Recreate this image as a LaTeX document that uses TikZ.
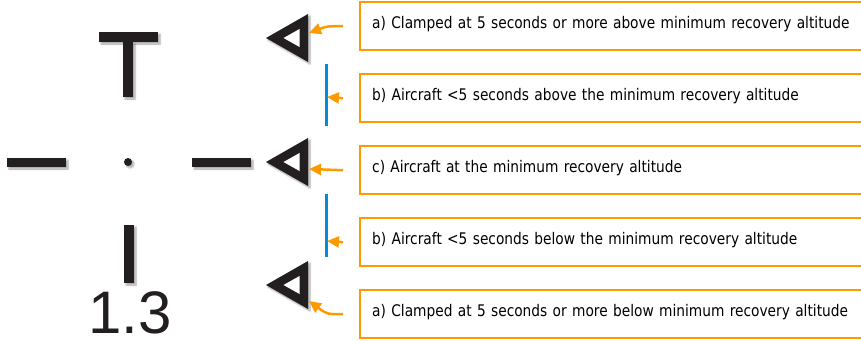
\documentclass[tikz,border=0pt]{standalone}
\usepackage{fontspec}
\usepackage{tikz}
\usetikzlibrary{arrows.meta, shadows.blur}
\newfontfamily\boxfont[FakeStretch=0.86]{DejaVu Sans}
\newfontfamily\hudfont{Liberation Sans}
\definecolor{hudink}{RGB}{35,31,32}
\definecolor{boxorange}{RGB}{255,153,0}
\definecolor{barblue}{RGB}{0,140,214}

\begin{document}
\begin{tikzpicture}[x=1pt, y=-1pt,
		msgbox/.style={draw=boxorange, line width=2.4pt, anchor=north west,
			inner xsep=12pt, inner ysep=0pt, text width=496pt, align=left,
			text height=26pt, text depth=22pt, font=\boxfont\fontsize{16}{19}\selectfont},
		pointer/.style={boxorange, line width=2.5pt, -{Triangle[length=12pt, width=11pt]}},
		hud/.style={fill=hudink, blur shadow={shadow xshift=2pt, shadow yshift=-2pt,
			shadow blur steps=6, shadow opacity=35}},
		bluebar/.style={barblue, line width=3pt}]
		
		\useasboundingbox (0,0) rectangle (861,340);
		\clip (0,0) rectangle (861,340);
		
		% pitch ladder symbol
		\fill[hud] (99,32) rectangle (158,42);
		\fill[hud] (123,42) rectangle (133,97);
		\fill[hud] (7,158) rectangle (66,167);
		\fill[hud] (192,158) rectangle (251,167);
		\fill[hud] (128,162) circle (4);
		\fill[hud] (124,225) rectangle (134,283);
		\node[font=\hudfont\fontsize{60}{60}\selectfont, text=hudink, anchor=base, inner sep=0pt] (scale) at (130,333) {1.3};
		
		% recovery markers
		\foreach \c in {38,162,285}{
			\fill[hud] (266,\c) -- (308,\c-24) -- (308,\c+24) -- cycle;
			\fill[white] (283.5,\c) -- (299.5,\c-9) -- (299.5,\c+9) -- cycle;
		}
		
		\draw[bluebar] (326,64) -- (326,126);
		\draw[bluebar] (326,194) -- (326,257);
		
		\node[msgbox] (boxA) at (359,1) {a) Clamped at 5 seconds or more above minimum recovery altitude};
		\node[msgbox] (boxB) at (359,73) {b) Aircraft <5 seconds above the minimum recovery altitude};
		\node[msgbox] (boxC) at (359,145) {c) Aircraft at the minimum recovery altitude};
		\node[msgbox] (boxD) at (359,217) {b) Aircraft <5 seconds below the minimum recovery altitude};
		\node[msgbox] (boxE) at (359,289) {a) Clamped at 5 seconds or more below minimum recovery altitude};
		
		\coordinate (tipA) at (309,33);
		\coordinate (tipB) at (327,97);
		\coordinate (tipC) at (309,169);
		\coordinate (tipD) at (327,241);
		\coordinate (tipE) at (309,301);
		
		\draw[pointer] ([xshift=-16pt]boxA.west) .. controls +(-16,0) .. (tipA);
		\draw[pointer] ([xshift=-16pt]boxB.west) -- (tipB);
		\draw[pointer] ([xshift=-16pt]boxC.west) -- (tipC);
		\draw[pointer] ([xshift=-16pt]boxD.west) -- (tipD);
		\draw[pointer] ([xshift=-16pt]boxE.west) .. controls +(-16,0) .. (tipE);
		
	\end{tikzpicture}
\end{document}
